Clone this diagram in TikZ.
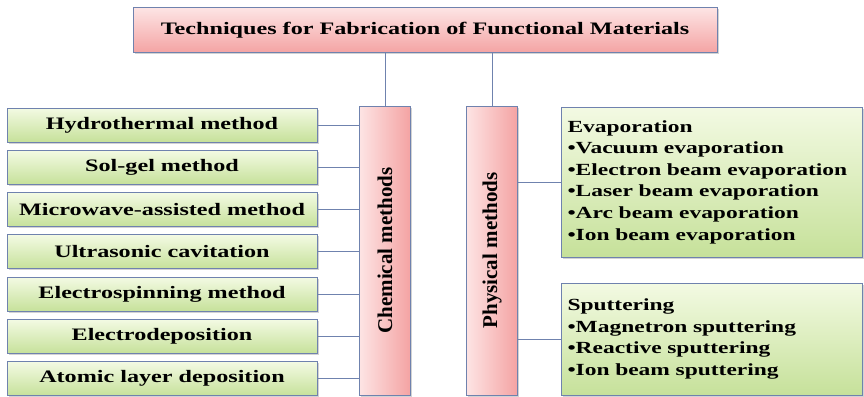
\documentclass[tikz,border=0pt]{standalone}
\usepackage{fontspec}
\setmainfont{Liberation Serif}[FakeStretch=1.38]
\newfontfamily\vertfont{Liberation Serif}
\usepackage{xcolor}
\usepackage{tikz}
\usetikzlibrary{positioning,shadows}

\definecolor{edgeblue}{HTML}{6F82AE}
\definecolor{pinktop}{HTML}{FDE4E4}
\definecolor{pinkbot}{HTML}{F4A3A3}
\definecolor{greentop}{HTML}{F3FAE3}
\definecolor{greenbot}{HTML}{C6E19A}

\begin{document}
\begin{tikzpicture}[
    x=1pt, y=-1pt,
    node distance=7.3pt,
    shd/.style={drop shadow={shadow xshift=1.5pt, shadow yshift=-1.5pt, opacity=0.35}},
    ttl/.style={draw=edgeblue, line width=1pt, top color=pinktop, bottom color=pinkbot, shd,
      minimum width=584pt, minimum height=45pt, font=\fontsize{17.5}{20}\selectfont\bfseries},
    grp/.style={draw=edgeblue, line width=1pt, left color=pinktop, right color=pinkbot, shd,
      minimum width=51pt, minimum height=289pt},
    meth/.style={draw=edgeblue, line width=1pt, top color=greentop, bottom color=greenbot, shd,
      minimum width=310pt, minimum height=34pt, inner sep=0pt, font=\fontsize{17.5}{20}\selectfont\bfseries},
    lst/.style={meth, minimum width=301pt, align=left, text width=288pt, inner xsep=6.5pt,
      font=\fontsize{17}{21.6}\selectfont\bfseries},
    ln/.style={draw=edgeblue, line width=1pt}
  ]
    \useasboundingbox (0,0) rectangle (864,396);

    \node[ttl] (title) at (425,30.5) {Techniques for Fabrication of Functional Materials};

    % the two groups
    \node[grp, label={[rotate=90, font=\vertfont\fontsize{21}{24}\selectfont\bfseries]center:Chemical methods}] (chem) at (385,250.5) {};
    \node[grp, label={[rotate=90, font=\vertfont\fontsize{21}{24}\selectfont\bfseries]center:Physical methods}] (phys) at (492,250.5) {};

    % chemical methods
    \node[meth] (hydro) at (162,125) {Hydrothermal method};
    \node[meth, below=of hydro] (solgel) {Sol-gel method};
    \node[meth, below=of solgel] (micro) {Microwave-assisted method};
    \node[meth, below=of micro] (ultra) {Ultrasonic cavitation};
    \node[meth, below=of ultra] (spin) {Electrospinning method};
    \node[meth, below=of spin] (edep) {Electrodeposition};
    \node[meth, below=of edep] (ald) {Atomic layer deposition};

    % physical methods
    \node[lst, minimum height=150pt] (evap) at (711.5,182) {Evaporation\\
      \textbullet Vacuum evaporation\\
      \textbullet Electron beam evaporation\\
      \textbullet Laser beam evaporation\\
      \textbullet Arc beam evaporation\\
      \textbullet Ion beam evaporation};
    \node[lst, minimum height=112pt] (sput) at (711.5,339) {Sputtering\\
      \textbullet Magnetron sputtering\\
      \textbullet Reactive sputtering\\
      \textbullet Ion beam sputtering};

    \draw[ln] (title.south -| chem.north) -- (chem.north);
    \draw[ln] (title.south -| phys.north) -- (phys.north);

    \draw[ln] (hydro.east) -- (hydro -| chem.west);
    \draw[ln] (solgel.east) -- (solgel -| chem.west);
    \draw[ln] (micro.east) -- (micro -| chem.west);
    \draw[ln] (ultra.east) -- (ultra -| chem.west);
    \draw[ln] (spin.east) -- (spin -| chem.west);
    \draw[ln] (edep.east) -- (edep -| chem.west);
    \draw[ln] (ald.east) -- (ald -| chem.west);

    \draw[ln] (evap.west -| phys.east) -- (evap.west);
    \draw[ln] (sput.west -| phys.east) -- (sput.west);
  \end{tikzpicture}
\end{document}
